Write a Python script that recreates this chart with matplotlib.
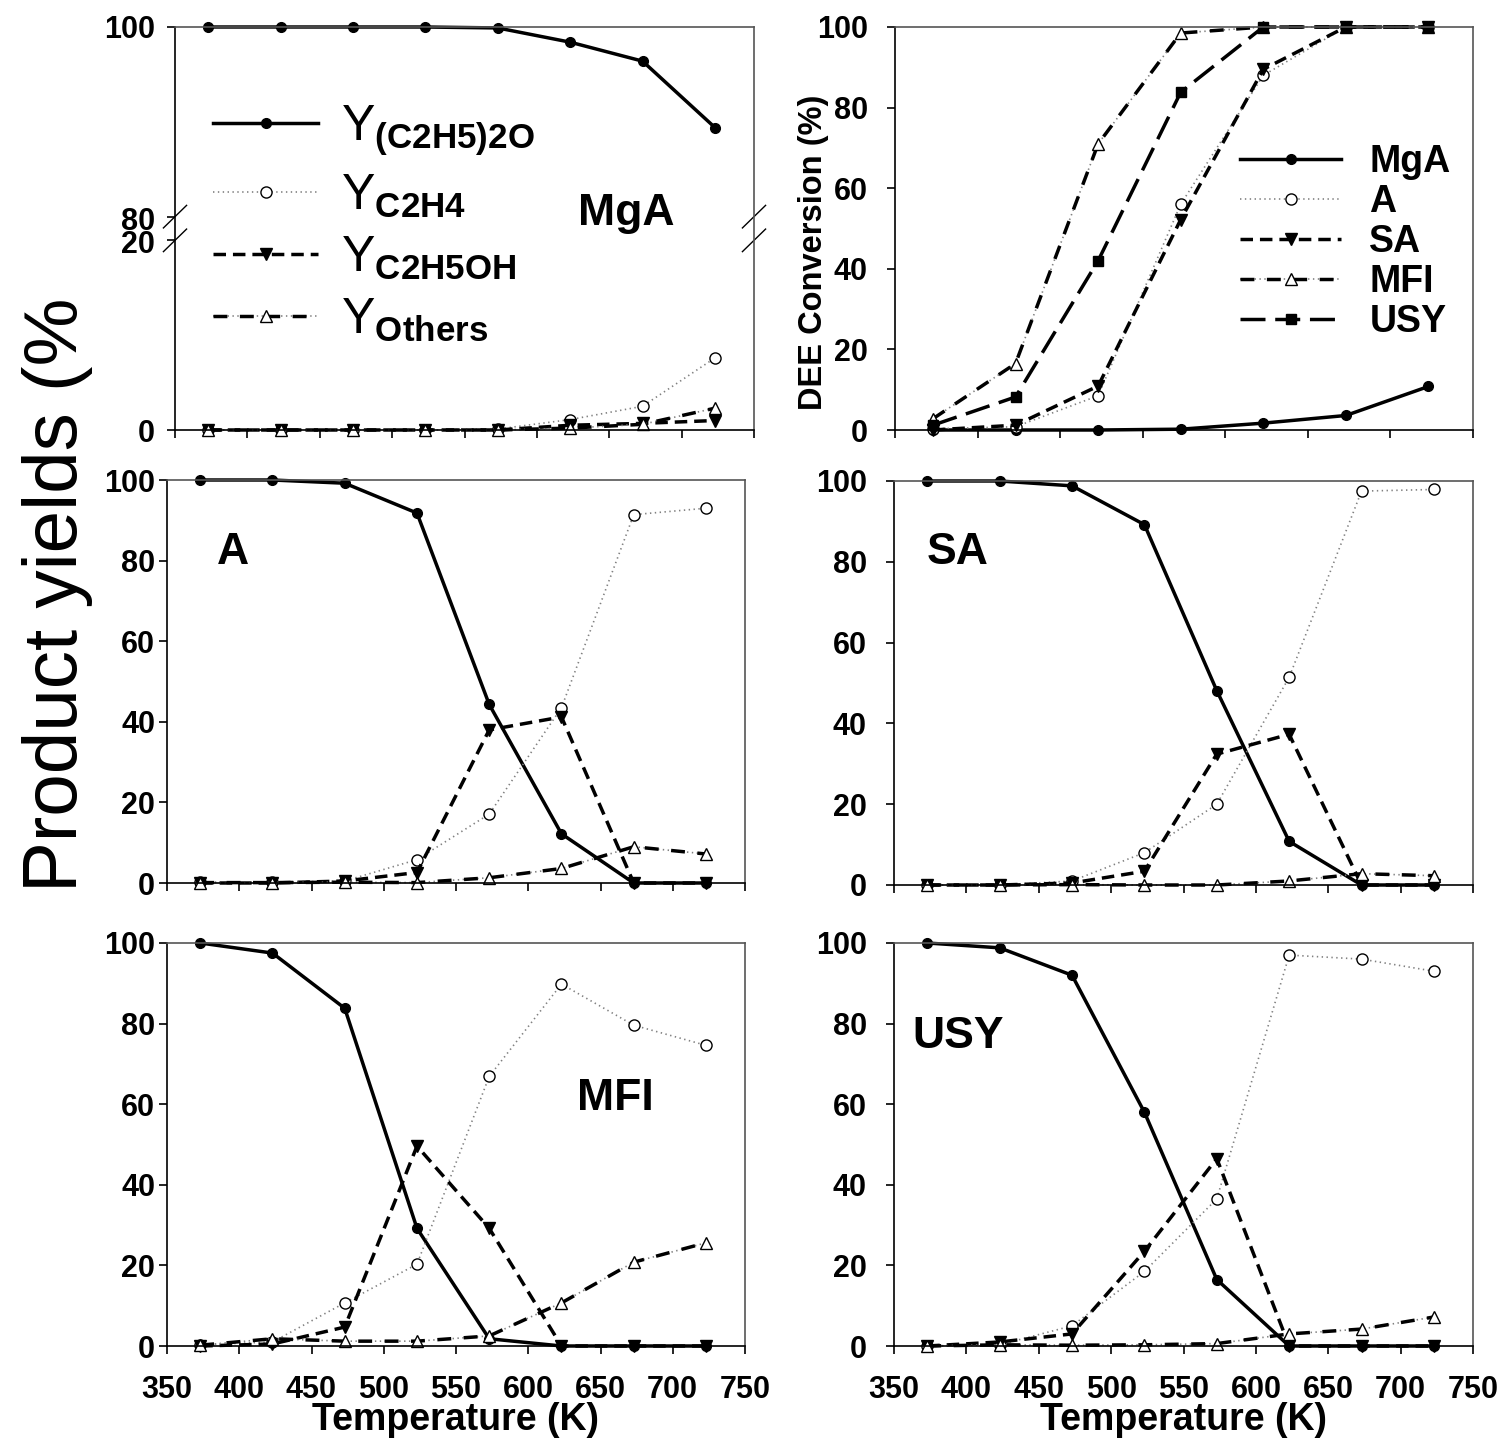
import numpy as np
import matplotlib
matplotlib.use('Agg')
import matplotlib.pyplot as plt
from matplotlib.legend_handler import HandlerTuple

plt.rcParams['font.family'] = ['Liberation Sans', 'DejaVu Sans']
plt.rcParams['font.weight'] = 'bold'
plt.rcParams['mathtext.fontset'] = 'custom'
plt.rcParams['mathtext.rm'] = 'Liberation Sans'
plt.rcParams['mathtext.bf'] = 'Liberation Sans:bold'
plt.rcParams['lines.scale_dashes'] = False

# reaction temperatures (K)
temps = [373, 423, 473, 523, 573, 623, 673, 723]
conv_temps = [423, 473, 523, 573, 623, 673, 723]

# product yields (%) per catalyst: diethyl ether, ethylene, ethanol, others
mga_dee = [100, 100, 100, 100, 99.9, 98.4, 96.4, 89.4]
mga_c2h4 = [0, 0, 0, 0, 0.1, 1.1, 2.5, 7.6]
mga_etoh = [0, 0, 0, 0, 0, 0.5, 0.7, 1.0]
mga_oth = [0, 0, 0, 0, 0, 0.2, 0.6, 2.3]

a_dee = [100, 100, 99.2, 91.8, 44.3, 12.2, 0, 0]
a_c2h4 = [0.2, 0.2, 0.5, 5.8, 17.1, 43.5, 91.4, 93.0]
a_etoh = [0, 0, 0.5, 2.6, 38.0, 41.2, 0, 0]
a_oth = [0.1, 0.1, 0.2, 0.1, 1.3, 3.6, 9.0, 7.2]

sa_dee = [100, 100, 98.8, 89.2, 48.1, 10.8, 0, 0]
sa_c2h4 = [0, 0, 1.0, 8.0, 20.0, 51.4, 97.5, 97.9]
sa_etoh = [0, 0, 0.5, 3.4, 32.4, 37.3, 0, 0]
sa_oth = [0, 0, 0.1, 0, 0, 1.0, 2.8, 2.3]

mfi_dee = [100, 97.5, 83.8, 29.2, 1.8, 0, 0, 0]
mfi_c2h4 = [0.3, 1.0, 10.7, 20.3, 66.9, 89.8, 79.6, 74.6]
mfi_etoh = [0, 0.5, 4.7, 49.6, 29.2, 0, 0, 0]
mfi_oth = [0.2, 1.8, 1.2, 1.2, 2.5, 10.7, 20.8, 25.6]

usy_dee = [100, 98.8, 92.0, 58.0, 16.5, 0, 0, 0]
usy_c2h4 = [0, 0.3, 5.0, 18.5, 36.5, 97.0, 96.0, 93.0]
usy_etoh = [0, 1.0, 3.0, 23.5, 46.5, 0, 0, 0]
usy_oth = [0, 0.3, 0.2, 0.3, 0.6, 3.0, 4.2, 7.2]

# DEE conversion (%)
conv_mga = [0, 0, 0, 0.2, 1.7, 3.6, 10.8]
conv_a = [0.3, 0.8, 8.5, 56.0, 88.0, 100, 100]
conv_sa = [0, 1.2, 10.9, 52.2, 89.5, 100, 100]
conv_mfi = [2.8, 16.5, 71.0, 98.5, 100, 100, 100]
conv_usy = [1.2, 8.2, 42.0, 83.8, 100, 100, 100]

yield_labels = [r'Y$_{\mathbf{(C2H5)2O}}$', r'Y$_{\mathbf{C2H4}}$',
                r'Y$_{\mathbf{C2H5OH}}$', r'Y$_{\mathbf{Others}}$']
catalysts = ['MgA', 'A', 'SA', 'MFI', 'USY']

# line styles
solid = dict(color='black', lw=2.5, marker='o', ms=7, mfc='black', mec='black', clip_on=False)
dotted = dict(color='#808080', lw=1.2, dashes=(1, 2.5), marker='o', ms=8,
              mfc='white', mec='black', mew=1.0, clip_on=False)
dashed = dict(color='black', lw=2.5, dashes=(9, 5), marker='v', ms=8,
              mfc='black', mec='black', clip_on=False)
dot_under = dict(color='#808080', lw=1.2, dashes=(1, 2.5), clip_on=False)
dash_dot = dict(color='black', lw=2.5, dashes=(10, 9), marker='^', ms=9,
                mfc='white', mec='black', mew=1.0, clip_on=False)
long_dash = dict(color='black', lw=2.5, dashes=(18, 7), marker='s', ms=7,
                 mfc='black', mec='black', clip_on=False)

W, H = 1499, 1440
fig = plt.figure(figsize=(W / 100, H / 100), dpi=100)


def box(x0, x1, y0, y1):
    return fig.add_axes([x0 / W, 1 - y1 / H, (x1 - x0) / W, (y1 - y0) / H])


ax_mga = box(175, 754, 27, 430)
ax_conv = box(895, 1473, 27, 430)
ax_a = box(167, 745, 480, 883)
ax_sa = box(894, 1473, 481, 885)
ax_mfi = box(167, 745, 943, 1346)
ax_usy = box(894, 1473, 943, 1346)


def frame(ax, xmin, ypad, xlabels=False):
    ax.set_xlim(xmin, 750)
    ax.set_xticks(np.arange(xmin, 751, 50))
    ax.tick_params(axis='both', direction='out', width=1.2, labelsize=22)
    ax.tick_params(axis='y', length=5.5, pad=ypad)
    ax.tick_params(axis='x', length=6, pad=15, labelbottom=xlabels)
    for side in ['left', 'bottom']:
        ax.spines[side].set_color('black')
        ax.spines[side].set_linewidth(1.2)
    for side in ['top', 'right']:
        ax.spines[side].set_color('#555555')
        ax.spines[side].set_linewidth(1.2)
    if xlabels:
        ax.set_xlabel('Temperature (K)', fontsize=27, fontweight='bold')
        ax.xaxis.set_label_coords(0.5, -0.14)


def plot_yields(ax, dee, c2h4, etoh, oth):
    h1, = ax.plot(temps, dee, **solid)
    h2, = ax.plot(temps, c2h4, **dotted)
    h3, = ax.plot(temps, etoh, **dashed)
    h4a, = ax.plot(temps, oth, **dot_under)
    h4b, = ax.plot(temps, oth, **dash_dot)
    return [h1, h2, h3, (h4a, h4b)]


# broken y axis for MgA: 0-20 and 80-100 share one axes
GAP = 2.5


def fwd(y):
    y = np.asarray(y, dtype=float)
    return np.where(y <= 20, y, np.where(y >= 80, y - 60 + GAP, 20 + (y - 20) * GAP / 60))


def inv(v):
    v = np.asarray(v, dtype=float)
    return np.where(v <= 20, v, np.where(v >= 20 + GAP, v + 60 - GAP, 20 + (v - 20) * 60 / GAP))


ax_mga.set_yscale('function', functions=(fwd, inv))
ax_mga.set_ylim(0, 100)
ax_mga.set_yticks([0, 20, 80, 100])
ax_mga.set_yticklabels(['0', '', '', '100'])
ax_mga.yaxis.set_minor_locator(matplotlib.ticker.NullLocator())
frame(ax_mga, 350, 9)
handles = plot_yields(ax_mga, mga_dee, mga_c2h4, mga_etoh, mga_oth)
span = fwd(100) - fwd(0)
f80 = float((fwd(80) - fwd(0)) / span)
f20 = float((fwd(20) - fwd(0)) / span)
for fy in (f20, f80):
    for xa in (0, 1):
        ax_mga.plot([xa - 0.02, xa + 0.02], [fy - 0.028, fy + 0.028], transform=ax_mga.transAxes,
                    color='black', lw=1, clip_on=False)
# the two labels either side of the break sit as one stacked block
ax_mga.text(-0.0345, (f20 + f80) / 2 - 0.012, '80\n20', transform=ax_mga.transAxes, fontsize=22,
            fontweight='bold', ha='right', va='center', multialignment='right', linespacing=0.7)
ax_mga.legend(handles, yield_labels, loc='upper left', bbox_to_anchor=(0.066, 0.81),
              frameon=False, prop={'size': 36, 'weight': 'normal'}, handlelength=2.1,
              handletextpad=0.45, labelspacing=0.3, borderpad=0, borderaxespad=0,
              handler_map={tuple: HandlerTuple(ndivide=1, pad=0)})
ax_mga.text(0.78, 0.538, 'MgA', transform=ax_mga.transAxes, fontsize=32,
            fontweight='bold', ha='center', va='center')

# DEE conversion
ax_conv.set_ylim(0, 100)
ax_conv.set_yticks(np.arange(0, 101, 20))
frame(ax_conv, 400, 14)
c1, = ax_conv.plot(conv_temps, conv_mga, **solid)
c2, = ax_conv.plot(conv_temps, conv_a, **dotted)
c3, = ax_conv.plot(conv_temps, conv_sa, **dashed)
c4a, = ax_conv.plot(conv_temps, conv_mfi, **dot_under)
c4b, = ax_conv.plot(conv_temps, conv_mfi, **dash_dot)
c5, = ax_conv.plot(conv_temps, conv_usy, **long_dash)
ax_conv.set_ylabel('DEE Conversion (%)', fontsize=23.5, fontweight='bold')
ax_conv.yaxis.set_label_coords(-0.115, 0.44)
ax_conv.legend([c1, c2, c3, (c4a, c4b), c5], catalysts, loc='upper left',
               bbox_to_anchor=(0.597, 0.71), frameon=False,
               prop={'size': 27, 'weight': 'bold'}, handlelength=2.7, handletextpad=0.75,
               labelspacing=0.11, borderpad=0, borderaxespad=0,
               handler_map={tuple: HandlerTuple(ndivide=1, pad=0)})

panels = [
    (ax_a, a_dee, a_c2h4, a_etoh, a_oth, 'A', (0.114, 0.821), 3, False),
    (ax_sa, sa_dee, sa_c2h4, sa_etoh, sa_oth, 'SA', (0.11, 0.824), 14, False),
    (ax_mfi, mfi_dee, mfi_c2h4, mfi_etoh, mfi_oth, 'MFI', (0.775, 0.613), 3, True),
    (ax_usy, usy_dee, usy_c2h4, usy_etoh, usy_oth, 'USY', (0.11, 0.769), 14, True),
]
for ax, dee, c2h4, etoh, oth, name, pos, ypad, xl in panels:
    ax.set_ylim(0, 100)
    ax.set_yticks(np.arange(0, 101, 20))
    frame(ax, 350, ypad, xl)
    plot_yields(ax, dee, c2h4, etoh, oth)
    ax.text(pos[0], pos[1], name, transform=ax.transAxes, fontsize=32,
            fontweight='bold', ha='center', va='center')

fig.text(58 / W, 1 - 595 / H, 'Product yields (%', rotation=90, fontsize=55,
         fontweight='normal', ha='center', va='center')

fig.savefig('out.png', dpi=100)
